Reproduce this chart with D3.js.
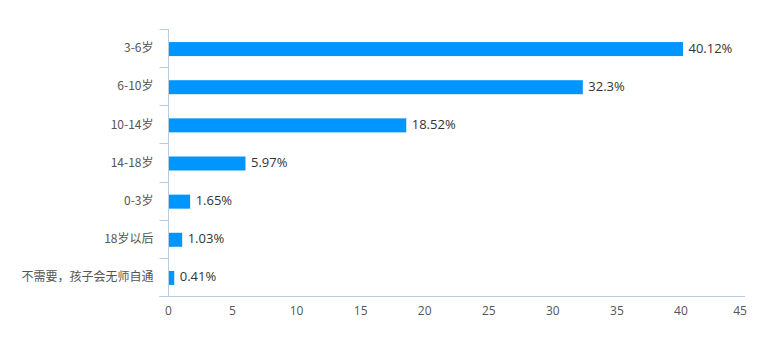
<!DOCTYPE html>
<html><head><meta charset="utf-8">
<script src="https://cdn.jsdelivr.net/npm/d3@7/dist/d3.min.js"></script>
<style>
body{margin:0;background:#fff;}
text{font-family:"Microsoft YaHei","Noto Sans CJK SC","Noto Sans",sans-serif;}
</style></head>
<body><svg id="c" width="766" height="340"></svg>
<script>
const categories = ["3-6岁","6-10岁","10-14岁","14-18岁","0-3岁","18岁以后","不需要，孩子会无师自通"];
const values = [40.12, 32.3, 18.52, 5.97, 1.65, 1.03, 0.41];
const valueLabels = ["40.12%","32.3%","18.52%","5.97%","1.65%","1.03%","0.41%"];
const xTicks = [0,5,10,15,20,25,30,35,40,45];

const svg = d3.select("#c");
const mLeft = 168.5, mRight = 745, mTop = 29, mBottom = 296;
const x = d3.scaleLinear().domain([0,45]).range([mLeft,mRight]);
const y = d3.scaleBand().domain(categories).range([mTop,mBottom]);
const axisColor = "#b8cde0";

svg.append("line").attr("x1",mLeft).attr("x2",mLeft).attr("y1",mTop).attr("y2",mBottom)
  .attr("stroke",axisColor).attr("stroke-width",1);
const bounds = categories.map(c=>y(c)).concat([mBottom]);
svg.selectAll(".yt").data(bounds).enter().append("line")
  .attr("x1",mLeft-9).attr("x2",mLeft).attr("y1",d=>Math.round(d)+0.5).attr("y2",d=>Math.round(d)+0.5)
  .attr("stroke",axisColor);
svg.append("line").attr("x1",mLeft-9).attr("x2",mRight).attr("y1",mBottom+0.5).attr("y2",mBottom+0.5)
  .attr("stroke",axisColor);

svg.selectAll(".xl").data(xTicks).enter().append("text")
  .attr("x",d=> d===45 ? x(d)-5 : x(d)).attr("y",315)
  .attr("text-anchor","middle").attr("font-size",12).attr("fill","#555")
  .style("font-family","'Open Sans','Noto Sans',sans-serif")
  .text(d=>d);

svg.selectAll(".yl").data(categories).enter().append("text")
  .attr("x",mLeft-15).attr("y",d=>y(d)+y.bandwidth()/2+1)
  .attr("dominant-baseline","middle")
  .attr("text-anchor","end").attr("font-size",12).attr("fill","#555")
  .text(d=>d);

const bh = 14;
svg.selectAll(".bar").data(values).enter().append("rect")
  .attr("x",mLeft+0.5).attr("y",(d,i)=>y(categories[i])+y.bandwidth()/2-bh/2+1)
  .attr("width",d=>x(d)-x(0)).attr("height",bh)
  .attr("fill","#0095ff");

svg.selectAll(".vl").data(values).enter().append("text")
  .attr("x",d=>x(d)+6).attr("y",(d,i)=>y(categories[i])+y.bandwidth()/2+1)
  .attr("dominant-baseline","middle")
  .attr("font-size",13).attr("fill","#333")
  .style("font-family","'Open Sans','Noto Sans',sans-serif")
  .text((d,i)=>valueLabels[i]);
</script></body></html>
